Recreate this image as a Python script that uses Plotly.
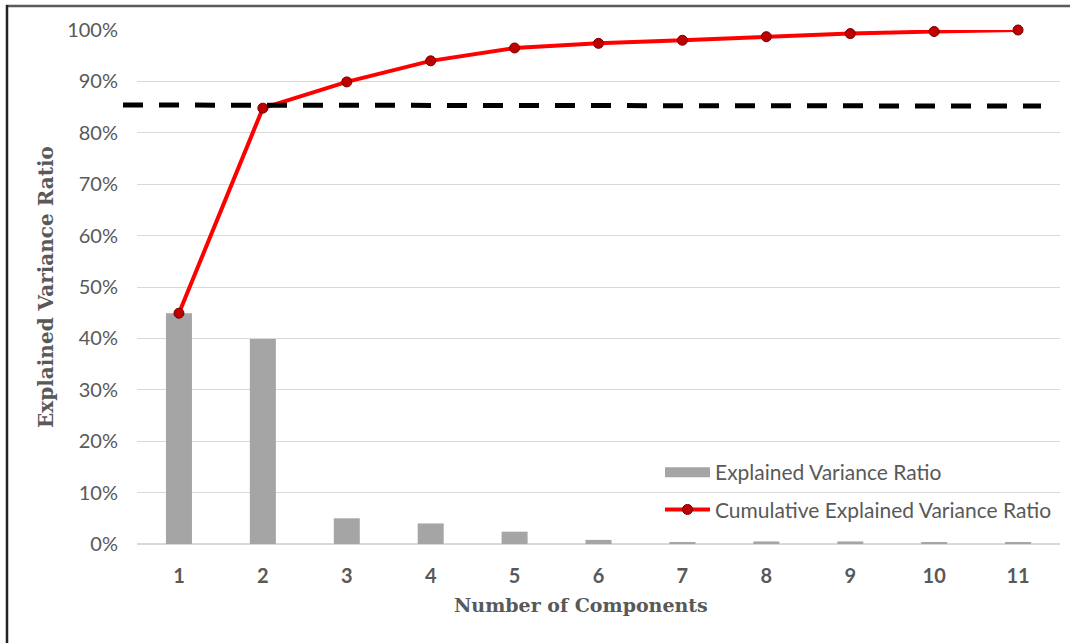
import plotly.graph_objects as go

# PCA explained variance per component (percent)
components = [1, 2, 3, 4, 5, 6, 7, 8, 9, 10, 11]
explained_ratio = [44.9, 39.9, 5.0, 4.0, 2.4, 0.8, 0.25, 0.5, 0.5, 0.25, 0.25]
cumulative_ratio = [44.9, 84.8, 89.9, 94.0, 96.5, 97.4, 98.0, 98.7, 99.3, 99.7, 100.0]
threshold = [85.4, 85.2]  # dashed reference level, start / end
y_ticks = [0, 10, 20, 30, 40, 50, 60, 70, 80, 90, 100]
y_tick_labels = [f"{v}%" for v in y_ticks]

W, H = 1070, 643
ML, MR, MT, MB = 137, 10, 30, 99
PW, PH = W - ML - MR, H - MT - MB

TEXT = "#595959"
GRID = "#D9D9D9"
BAR = "#A5A5A5"
SERIF = "DejaVu Serif"


def px_x(p):
    return (p - ML) / PW


def px_y(p):
    return (H - MB - p) / PH


fig = go.Figure()

fig.add_trace(go.Bar(
    x=components, y=explained_ratio, marker_color=BAR, marker_line_width=0,
    showlegend=False, name="Explained Variance Ratio",
))

# legend key drawn as a wide gray swatch
fig.add_trace(go.Scatter(
    x=[None], y=[None], mode="lines", line=dict(color=BAR, width=10),
    name="Explained Variance Ratio", legendgroup="a",
))

fig.add_trace(go.Scatter(
    x=components, y=cumulative_ratio, mode="lines+markers",
    line=dict(color="#FF0000", width=4),
    marker=dict(size=10, color="#C00000", line=dict(color="#6E0000", width=1)),
    name="Cumulative Explained Variance Ratio", cliponaxis=False, legendgroup="b",
))

shapes = [
    # dashed threshold line
    dict(type="line", xref="paper", yref="y", x0=px_x(123), x1=px_x(1041),
         y0=threshold[0], y1=threshold[1],
         line=dict(color="black", width=5, dash="20px,16px"), layer="above"),
    # outer frame
    dict(type="line", xref="paper", yref="paper", x0=px_x(6), x1=px_x(1080),
         y0=px_y(6), y1=px_y(6), line=dict(color="#5a5a5a", width=2.5)),
    dict(type="line", xref="paper", yref="paper", x0=px_x(7), x1=px_x(7),
         y0=px_y(5), y1=px_y(660), line=dict(color="#222222", width=2.5)),
]

annotations = [
    dict(text="<b>Number of Components</b>", xref="paper", yref="paper",
         x=px_x(581), y=px_y(605), xanchor="center", yanchor="middle",
         showarrow=False, font=dict(size=19, family=SERIF, color=TEXT)),
]

fig.update_layout(
    width=W, height=H,
    margin=dict(l=ML, r=MR, t=MT, b=MB),
    paper_bgcolor="white", plot_bgcolor="white",
    bargap=0.69,
    shapes=shapes,
    annotations=annotations,
    font=dict(family="Lato, Open Sans, sans-serif", color=TEXT),
    xaxis=dict(
        range=[0.5, 11.5], tickvals=components, ticktext=[str(c) for c in components],
        tickfont=dict(size=20, family="Lato", weight="bold", color=TEXT),
        showgrid=False, zeroline=False, showline=False, ticks="",
        ticklabelstandoff=18,
    ),
    yaxis=dict(
        range=[0, 100], tickvals=y_ticks, ticktext=y_tick_labels,
        tickfont=dict(size=20, family="Lato", color=TEXT),
        showgrid=True, gridcolor=GRID, gridwidth=1,
        zeroline=True, zerolinecolor=GRID, zerolinewidth=1.5,
        showline=False, ticks="", ticklabelstandoff=18,
        title=dict(text="<b>Explained Variance Ratio</b>", standoff=8,
                   font=dict(size=20, family=SERIF, color=TEXT)),
    ),
    legend=dict(
        x=px_x(660), y=px_y(452), xanchor="left", yanchor="top",
        bgcolor="rgba(0,0,0,0)", itemwidth=45,
        font=dict(size=21, family="Lato", color=TEXT),
        tracegroupgap=7,
    ),
)

fig.write_html("out.html")
